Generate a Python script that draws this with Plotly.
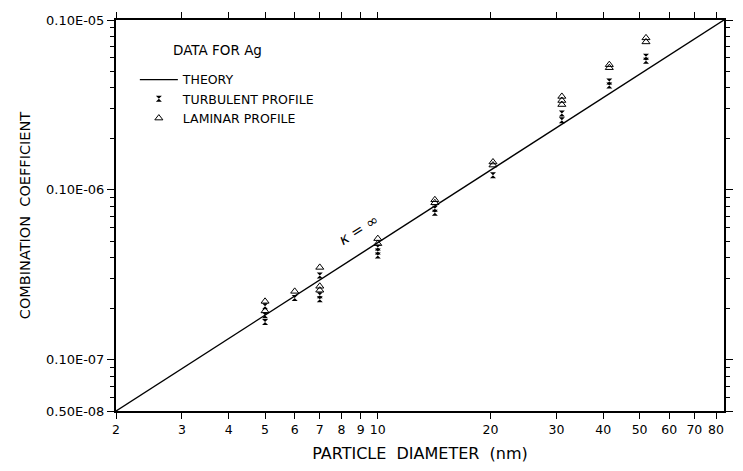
import plotly.graph_objects as go
import math

# Theory line (K = infinity)
theory_d = [2, 84]
theory_k = [5e-9, 1e-6]

# Turbulent profile data
turb_d = [5, 5, 5, 6, 7, 7, 7, 10, 10, 10, 14.2, 14.2, 20.3, 31, 31, 41.5, 41.5, 52, 52]
turb_k = [2.07e-8, 1.83e-8, 1.67e-8, 2.31e-8, 3.14e-8, 2.40e-8, 2.27e-8,
          4.58e-8, 4.34e-8, 4.11e-8, 7.74e-8, 7.33e-8, 1.22e-7,
          2.82e-7, 2.57e-7, 4.34e-7, 4.11e-7, 6.08e-7, 5.75e-7]

# Laminar profile data
lam_d = [5, 5, 6, 7, 7, 7, 10, 10, 14.2, 14.2, 20.3, 20.3, 31, 31, 31, 41.5, 41.5, 52, 52]
lam_k = [2.21e-8, 1.94e-8, 2.53e-8, 3.50e-8, 2.71e-8, 2.57e-8, 5.17e-8, 4.83e-8,
         8.75e-8, 8.40e-8, 1.46e-7, 1.40e-7, 3.55e-7, 3.36e-7, 3.18e-7,
         5.46e-7, 5.24e-7, 7.85e-7, 7.43e-7]

x_tickvals = [2, 3, 4, 5, 6, 7, 8, 9, 10, 20, 30, 40, 50, 60, 70, 80]
x_ticktext = ["2", "3", "4", "5", "6", "7", "8", "9", "10", "20", "30", "40", "50", "60", "70", "80"]
y_tickvals = [5e-9, 1e-8, 1e-7, 1e-6]
y_ticktext = ["0.50E-08", "0.10E-07", "0.10E-06", "0.10E-05"]
y_minor = [6e-9, 7e-9, 8e-9, 9e-9,
           2e-8, 3e-8, 4e-8, 5e-8, 6e-8, 7e-8, 8e-8, 9e-8,
           2e-7, 3e-7, 4e-7, 5e-7, 6e-7, 7e-7, 8e-7, 9e-7]

FONT = "DejaVu Sans"
NB = "\u00a0"

fig = go.Figure()
fig.add_trace(go.Scatter(x=theory_d, y=theory_k, mode="lines", name="THEORY",
                         line=dict(color="black", width=1.4)))
fig.add_trace(go.Scatter(x=turb_d, y=turb_k, mode="markers", name="TURBULENT PROFILE",
                         marker=dict(symbol="hourglass", size=6, color="black")))
fig.add_trace(go.Scatter(x=lam_d, y=lam_k, mode="markers", name="LAMINAR PROFILE",
                         marker=dict(symbol="triangle-up-open", size=7, color="black",
                                     line=dict(width=1, color="black"))))

fig.update_layout(
    width=743, height=471,
    margin=dict(l=116, r=10, t=20, b=60),
    paper_bgcolor="white", plot_bgcolor="white",
    font=dict(family=FONT, color="black"),
    showlegend=True,
    legend=dict(x=0.031, y=0.885, xanchor="left", yanchor="top",
                bgcolor="rgba(0,0,0,0)", font=dict(size=12.5, family=FONT),
                itemwidth=38, tracegroupgap=0),
    xaxis=dict(type="log", range=[math.log10(2), math.log10(84)],
               tickvals=x_tickvals, ticktext=x_ticktext,
               ticks="outside", ticklen=6, tickwidth=1.2, tickcolor="black",
               showline=True, linecolor="black", linewidth=2, mirror="ticks",
               showgrid=False, zeroline=False,
               tickfont=dict(size=12.5, family=FONT),
               title=dict(text=f"PARTICLE{NB}{NB}DIAMETER{NB}{NB}(nm)",
                          font=dict(size=16, family=FONT), standoff=12)),
    yaxis=dict(type="log", range=[math.log10(5e-9), -6],
               tickvals=y_tickvals, ticktext=y_ticktext,
               ticks="outside", ticklen=7, tickwidth=1.2, tickcolor="black",
               minor=dict(tickvals=y_minor, ticks="outside", ticklen=4,
                          tickwidth=1, tickcolor="black", showgrid=False),
               showline=True, linecolor="black", linewidth=2, mirror="ticks",
               showgrid=False, zeroline=False,
               tickfont=dict(size=13, family=FONT),
               title=dict(text=f"COMBINATION{NB}{NB}COEFFICIENT",
                          font=dict(size=14.5, family=FONT), standoff=12)),
    annotations=[
        dict(text="DATA FOR Ag", xref="paper", yref="paper",
             x=(172 - 116) / 617, y=(411 - 50) / 391, xanchor="left", yanchor="middle",
             showarrow=False, font=dict(size=13.5, family=FONT)),
        dict(text="<i>κ</i> = ∞", xref="paper", yref="paper",
             x=(362 - 116) / 617, y=(411 - 230) / 391, xanchor="center", yanchor="middle",
             showarrow=False, textangle=-32, font=dict(size=15, family=FONT)),
    ],
)

fig.write_html("out.html")
